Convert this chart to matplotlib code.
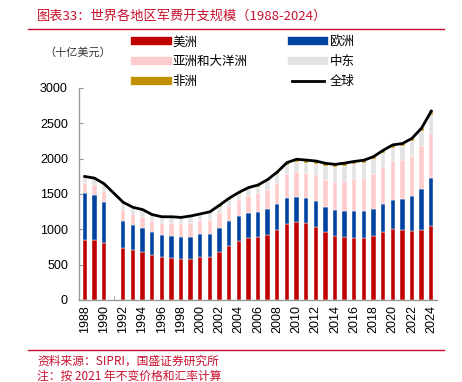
import matplotlib
matplotlib.use("Agg")
import matplotlib.pyplot as plt
from matplotlib.lines import Line2D
import numpy as np

plt.rcParams['font.family'] = ['Liberation Sans', 'Noto Sans CJK SC', 'DejaVu Sans']

# 数据：十亿美元（2021年不变价），1991年缺失
years = [1988, 1989, 1990, 1992, 1993, 1994, 1995, 1996, 1997, 1998, 1999,
         2000, 2001, 2002, 2003, 2004, 2005, 2006, 2007, 2008, 2009, 2010,
         2011, 2012, 2013, 2014, 2015, 2016, 2017, 2018, 2019, 2020, 2021,
         2022, 2023, 2024]
americas = [852, 842, 800, 740, 711, 678, 636, 604, 594, 580, 580,
            606, 613, 683, 768, 833, 880, 889, 922, 993, 1067, 1100,
            1081, 1030, 955, 903, 884, 880, 880, 903, 955, 997, 987,
            969, 993, 1049]
europe = [655, 646, 585, 374, 347, 338, 323, 309, 314, 309, 314,
          323, 323, 328, 346, 347, 347, 361, 360, 365, 375, 360,
          361, 365, 356, 366, 370, 384, 374, 384, 398, 421, 436,
          505, 579, 682]
asia = [140, 141, 150, 159, 159, 154, 160, 173, 178, 178, 192,
        185, 197, 216, 215, 234, 243, 257, 272, 299, 337, 355,
        359, 369, 388, 402, 431, 449, 477, 501, 533, 548, 557,
        566, 600, 628]
mideast = [84, 79, 94, 93, 79, 94, 74, 75, 75, 84, 84,
           84, 94, 93, 89, 84, 94, 94, 121, 122, 130, 141,
           141, 164, 196, 206, 210, 206, 207, 201, 192, 187, 192,
           206, 215, 262]
africa = [15, 15, 15, 14, 14, 14, 14, 15, 15, 16, 17,
          18, 19, 20, 21, 22, 24, 25, 27, 30, 33, 34,
          36, 37, 38, 40, 40, 40, 38, 38, 38, 40, 40,
          40, 45, 50]

series = [("美洲", americas, "#C00000"),
          ("欧洲", europe, "#0042A0"),
          ("亚洲和大洋洲", asia, "#FFCCCC"),
          ("中东", mideast, "#E3E3E3"),
          ("非洲", africa, "#C09000")]

red = "#C8102E"
cjk = ['Noto Sans CJK SC', 'DejaVu Sans']
fig = plt.figure(figsize=(4.62, 3.82), dpi=100)
ax = fig.add_axes([0.171, 0.215, 0.775, 0.555])

x = np.array(years)
bottom = np.zeros(len(years))
for name, vals, col in series:
    v = np.array(vals, dtype=float)
    ax.bar(x, v, width=0.45, bottom=bottom, color=col, edgecolor="white",
           linewidth=0.3, zorder=2)
    bottom += v
total = bottom
ax.plot(x, total, color="black", lw=2, zorder=3, solid_joinstyle="round")

ax.set_xlim(1987.4, 2024.6)
ax.set_ylim(0, 3000)
ax.set_yticks(range(0, 3001, 500))
ax.set_xticks(range(1988, 2025, 2))
ax.set_xticks(range(1988, 2025), minor=True)
ax.tick_params(axis="x", rotation=90, labelsize=9, direction="in", length=3,
               color="#999999", pad=4)
ax.tick_params(axis="x", which="minor", direction="in", length=3, color="#999999")
ax.tick_params(axis="y", labelsize=9, direction="in", length=3, color="#999999", pad=8)
for s in ["top", "right"]:
    ax.spines[s].set_visible(False)
for s in ["left", "bottom"]:
    ax.spines[s].set_color("#999999")
    ax.spines[s].set_linewidth(1.0)

# 标题与注释
fig.text(0.08, 0.958, "图表33：世界各地区军费开支规模（1988-2024）", color=red,
         fontsize=9.5, style="italic", family=cjk, va="center")
fig.add_artist(Line2D([0.06, 0.962], [0.925, 0.925], color=red, lw=1))
fig.add_artist(Line2D([0.06, 0.962], [0.083, 0.083], color=red, lw=1))
fig.text(0.08, 0.055, "资料来源：SIPRI，国盛证券研究所", color=red, fontsize=8.5,
         style="italic", family=cjk, va="center")
fig.text(0.08, 0.015, "注：按 2021 年不变价格和汇率计算", color=red, fontsize=8.5,
         style="italic", family=cjk, va="center")
fig.text(0.095, 0.862, "（十亿美元）", fontsize=8, color="#333333",
         family=cjk, va="center")

# 图例
handles = [Line2D([], [], color=series[0][2], lw=6),
           Line2D([], [], color=series[2][2], lw=6),
           Line2D([], [], color=series[4][2], lw=6),
           Line2D([], [], color=series[1][2], lw=6),
           Line2D([], [], color=series[3][2], lw=6),
           Line2D([], [], color="black", lw=2)]
labels = ["美洲", "亚洲和大洋洲", "非洲", "欧洲", "中东", "全球"]
fig.legend(handles, labels, ncol=2, loc="upper left", bbox_to_anchor=(0.268, 0.937),
           frameon=False, handlelength=2.6, handletextpad=0.4, columnspacing=3.55,
           labelspacing=0.55, prop={'family': cjk, 'size': 9})

fig.savefig("out.png", dpi=100)
